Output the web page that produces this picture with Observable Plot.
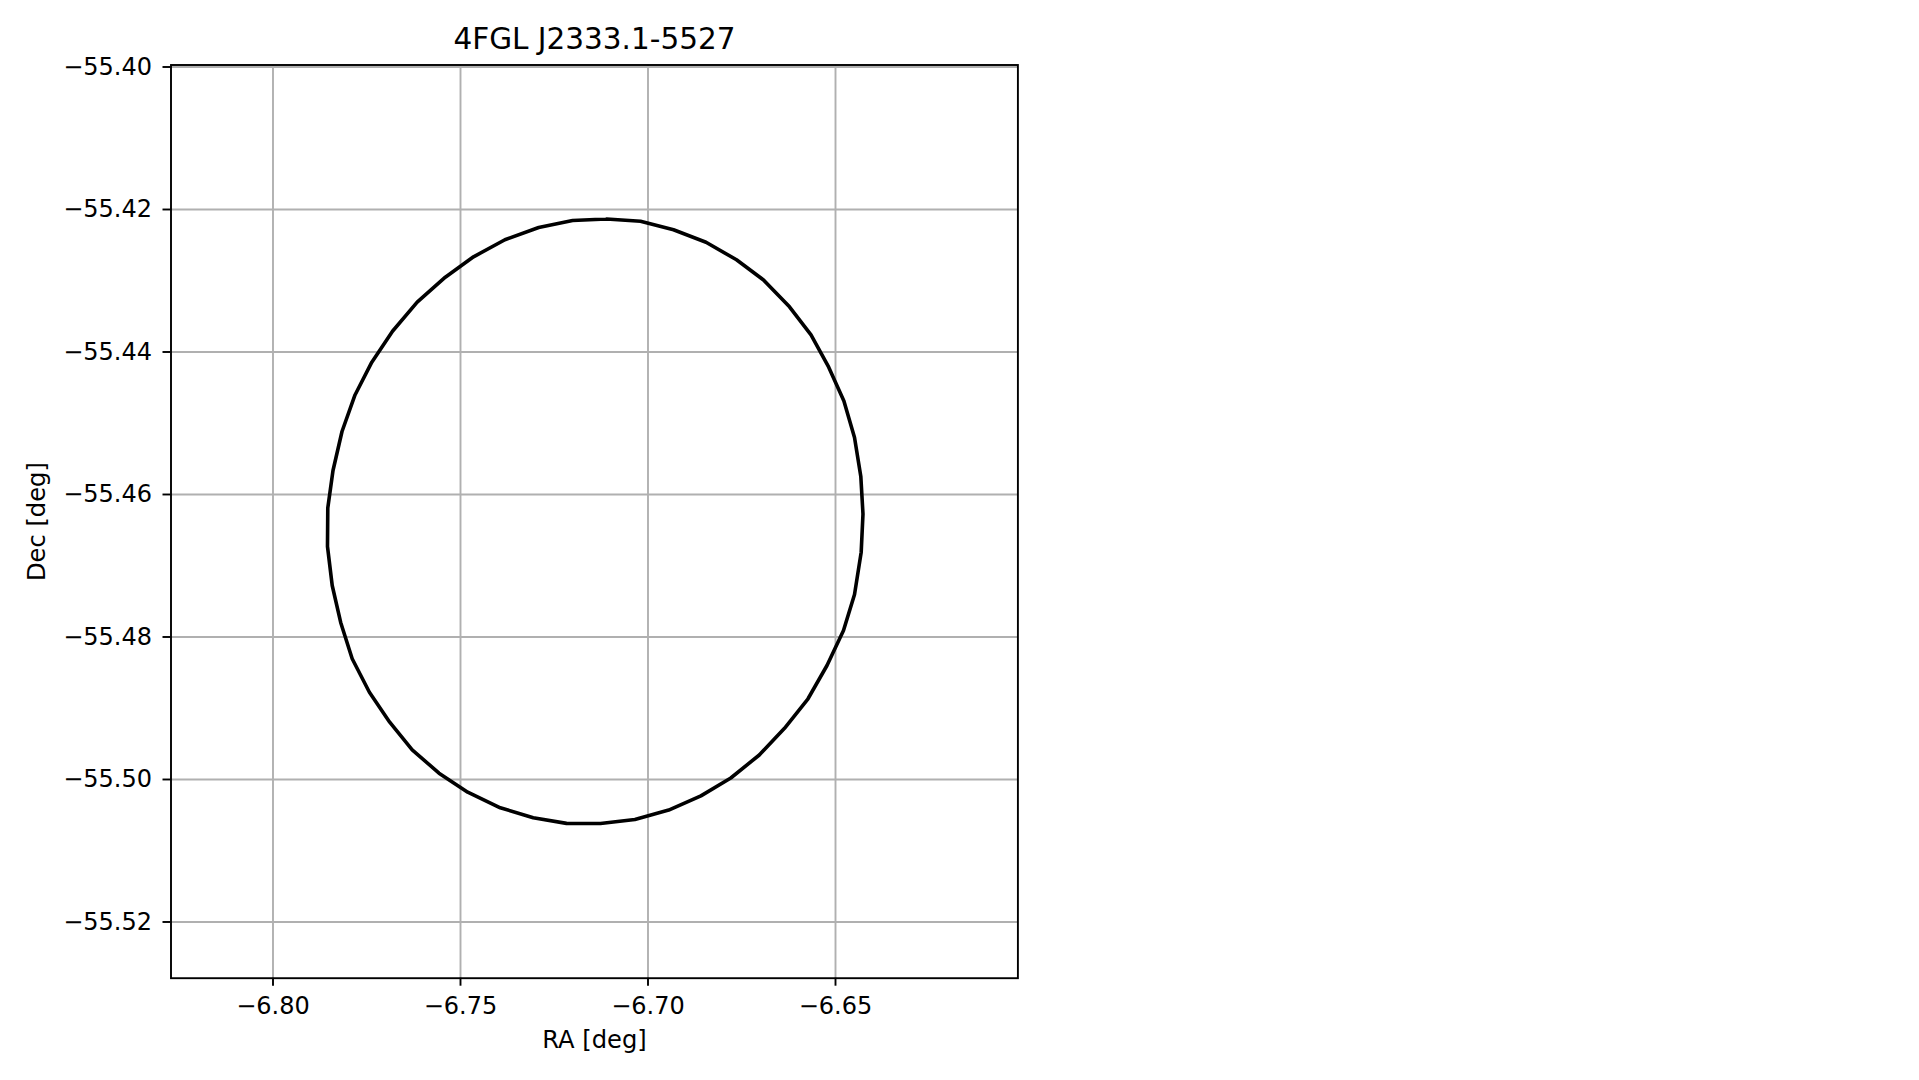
<!DOCTYPE html>
<html>
<head>
<meta charset="utf-8">
<script src="https://cdn.jsdelivr.net/npm/d3@7"></script>
<script src="https://cdn.jsdelivr.net/npm/@observablehq/plot@0.6"></script>
<style>
html, body { margin: 0; padding: 0; background: #fff; }
#chart svg { display: block; }
</style>
</head>
<body>
<div id="chart"></div>
<script>
const title = "4FGL J2333.1-5527";
const xLabel = "RA [deg]";
const yLabel = "Dec [deg]";
const raTicks = [-6.80, -6.75, -6.70, -6.65];
const decTicks = [-55.52, -55.50, -55.48, -55.46, -55.44, -55.42, -55.40];
const raDomain = [-6.8272, -6.60136];
const decDomain = [-55.52789, -55.39972];

// Ellipse outline vertices
const ra = [
  -6.71107, -6.70200, -6.69320, -6.68453, -6.67640, -6.66920, -6.66227, -6.65653,
  -6.65181, -6.64776, -6.64493, -6.64325, -6.64267, -6.64315, -6.64493, -6.64787,
  -6.65227, -6.65733, -6.66360, -6.67032, -6.67792, -6.68589, -6.69448, -6.70349,
  -6.71267, -6.72173, -6.73061, -6.73939, -6.74808, -6.75573, -6.76288, -6.76888,
  -6.77429, -6.77888, -6.78195, -6.78421, -6.78547, -6.78539, -6.78400, -6.78160,
  -6.77813, -6.77365, -6.76813, -6.76155, -6.75405, -6.74653, -6.73816, -6.72915,
  -6.72011, -6.71107
];
const dec = [
  -55.42133, -55.42164, -55.42285, -55.42459, -55.42706, -55.42989, -55.43366, -55.43761,
  -55.44213, -55.44688, -55.45200, -55.45747, -55.46274, -55.46810, -55.47404, -55.47909,
  -55.48400, -55.48867, -55.49281, -55.49656, -55.49979, -55.50230, -55.50429, -55.50561,
  -55.50618, -55.50616, -55.50538, -55.50397, -55.50178, -55.49912, -55.49583, -55.49196,
  -55.48775, -55.48306, -55.47796, -55.47277, -55.46730, -55.46189, -55.45663, -55.45116,
  -55.44603, -55.44143, -55.43709, -55.43301, -55.42950, -55.42664, -55.42425, -55.42253,
  -55.42154, -55.42133
];

const points = ra.map((r, i) => ({ra: r, dec: dec[i]}));
const fmt = d3.format(".2f");

const chart = Plot.plot({
  width: 1919,
  height: 1080,
  marginLeft: 170.5,
  marginRight: 901.6,
  marginTop: 64.5,
  marginBottom: 102.3,
  style: {fontFamily: "'DejaVu Sans', sans-serif", fontSize: "24px", background: "#fff", color: "#000"},
  x: {domain: raDomain, axis: null},
  y: {domain: decDomain, axis: null},
  marks: [
    Plot.gridX(raTicks, {stroke: "#b0b0b0", strokeOpacity: 1, strokeWidth: 1.9}),
    Plot.gridY(decTicks, {stroke: "#b0b0b0", strokeOpacity: 1, strokeWidth: 1.9}),
    Plot.line(points, {x: "ra", y: "dec", stroke: "#000", strokeWidth: 3.6, strokeLinejoin: "round"}),
    Plot.axisX(raTicks, {anchor: "bottom", tickSize: 8, tickPadding: 11, strokeWidth: 1.9, fontSize: 24, tickFormat: fmt, label: null, fill: "#000"}),
    Plot.axisY(decTicks, {anchor: "left", tickSize: 8, tickPadding: 11, strokeWidth: 1.9, fontSize: 24, tickFormat: fmt, label: null, fill: "#000"}),
    Plot.frame({stroke: "#000", strokeWidth: 1.9}),
    Plot.text([title], {text: d => d, frameAnchor: "top", dy: -16.2, lineAnchor: "bottom", textAnchor: "middle", fontSize: 29.5, fill: "#000"}),
    Plot.text([xLabel], {text: d => d, frameAnchor: "bottom", dy: 70, lineAnchor: "bottom", textAnchor: "middle", fontSize: 24.2, fill: "#000"}),
    Plot.text([yLabel], {text: d => d, frameAnchor: "left", dx: -126, rotate: -90, lineAnchor: "bottom", textAnchor: "middle", fontSize: 24.2, fill: "#000"})
  ]
});
document.getElementById("chart").appendChild(chart);
</script>
</body>
</html>
